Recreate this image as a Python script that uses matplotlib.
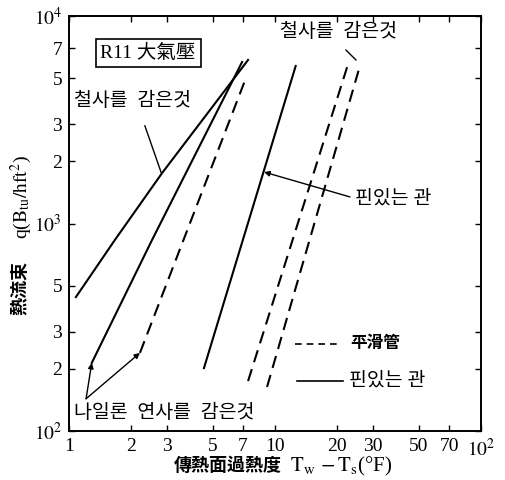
import numpy as np
import matplotlib
matplotlib.use("Agg")
import matplotlib.pyplot as plt
from matplotlib.ticker import FixedLocator, NullLocator, NullFormatter

plt.rcParams['font.family'] = ['Liberation Serif', 'Noto Sans CJK KR', 'DejaVu Sans']
plt.rcParams['mathtext.fontset'] = 'stix'

# curves: (delta T [F], q [Btu/hft2])
wire_solid_x = [1.08, 1.67, 2.83, 7.4]
wire_solid_y = [442, 833, 1750, 6140]
nylon_solid_x = [1.29, 2.53, 6.92]
nylon_solid_y = [213, 833, 6000]
nylon_dash_x = [2.21, 7.1]
nylon_dash_y = [238, 4800]
fin_solid_x = [4.52, 12.6]
fin_solid_y = [201, 5740]
smooth_dash_x = [7.4, 22.4]
smooth_dash_y = [174, 5680]
wire_dash_x = [9.15, 25.9]
wire_dash_y = [163, 5800]

xticks = [1, 2, 3, 5, 7, 10, 20, 30, 50, 70, 100]
xticklabels = ['1', '2', '3', '5', '7', '10', '20', '30', '50', '70', r'$10^2$']
yticks = [100, 200, 300, 500, 1000, 2000, 3000, 5000, 7000, 10000]
yticklabels = [r'$10^2$', '2', '3', '5', r'$10^3$', '2', '3', '5', '7', r'$10^4$']

fig = plt.figure(figsize=(5.05, 4.8), dpi=100)
ax = fig.add_axes([69/505, 1-431/480, 412/505, 415/480])
ax.set_xscale('log')
ax.set_yscale('log')
ax.set_xlim(1, 100)
ax.set_ylim(100, 10000)

lw = 1.5
dash = (0, (6, 3.5))
ax.plot(wire_solid_x, wire_solid_y, color='black', lw=lw)
ax.plot(nylon_solid_x, nylon_solid_y, color='black', lw=lw)
ax.plot(nylon_dash_x, nylon_dash_y, color='black', lw=lw, linestyle=dash)
ax.plot(fin_solid_x, fin_solid_y, color='black', lw=lw)
ax.plot(smooth_dash_x, smooth_dash_y, color='black', lw=lw, linestyle=dash)
ax.plot(wire_dash_x, wire_dash_y, color='black', lw=lw, linestyle=dash)

ax.xaxis.set_major_locator(FixedLocator(xticks))
ax.xaxis.set_minor_locator(NullLocator())
ax.set_xticklabels(xticklabels)
ax.yaxis.set_major_locator(FixedLocator(yticks))
ax.yaxis.set_minor_locator(NullLocator())
ax.set_yticklabels(yticklabels)
ax.tick_params(direction='in', length=4, width=1, top=True, right=True,
               labelsize=14, pad=5)
for s in ax.spines.values():
    s.set_linewidth(1.4)

kfont = 14
# box label
ax.text(2.42, 6630, 'R11 大氣壓', fontsize=14, ha='center', va='center',
        bbox=dict(boxstyle='square,pad=0.25', fc='white', ec='black', lw=1.2))

# wire wound (upper left)
ax.text(1.06, 3900, '철사를  감은것', fontsize=kfont, ha='left', va='center')
ax.annotate('', xy=(2.83, 1710), xytext=(2.31, 3050),
            arrowprops=dict(arrowstyle='-', color='black', lw=1))

# wire wound (top right)
ax.text(10.6, 8350, '철사를  감은것', fontsize=kfont, ha='left', va='center')
ax.annotate('', xy=(25.3, 6000), xytext=(21.6, 7010),
            arrowprops=dict(arrowstyle='-', color='black', lw=1))

# finned tube arrow
ax.text(24.5, 1320, '핀있는 관', fontsize=kfont, ha='left', va='center')
ax.annotate('', xy=(8.85, 1770), xytext=(23.1, 1343),
            arrowprops=dict(arrowstyle='-|>', color='black', lw=1,
                            mutation_scale=8, shrinkA=0, shrinkB=0))

# nylon wound with two leaders
ax.text(1.06, 122, '나일론  연사를  감은것', fontsize=kfont, ha='left', va='center')
for tx, ty in [(nylon_solid_x[0], nylon_solid_y[0]), (nylon_dash_x[0], nylon_dash_y[0])]:
    ax.annotate('', xy=(tx, ty), xytext=(1.21, 143),
                arrowprops=dict(arrowstyle='-|>', color='black', lw=1,
                                mutation_scale=8, shrinkA=0, shrinkB=0))

# legend drawn by hand
ax.plot([12.5, 21.0], [262, 262], color='black', lw=1.2, linestyle=(0, (4, 3)))
ax.text(23.1, 262, '平滑管', fontsize=12, ha='left', va='center', fontweight='bold')
ax.plot([12.8, 21.4], [175, 175], color='black', lw=1.2)
ax.text(22.9, 175, '핀있는 관', fontsize=kfont, ha='left', va='center')

# axis labels made of pieces (CJK + math)
fig.text(282/505, 1-466/480, '傳熱面過熱度', fontsize=13, fontweight='bold',
         ha='right', va='center')
fig.text(290/505, 1-466/480, r'$\mathrm{T_w\,-T_s}$(°F)', fontsize=15,
         ha='left', va='center')
fig.text(21/505, 1-288/480, '熱流束', fontsize=13, fontweight='bold',
         ha='center', va='center', rotation=90)
fig.text(21/505, 1-197/480, r'q($\mathrm{B_{tu}/hft^2}$)', fontsize=14,
         ha='center', va='center', rotation=90)

fig.savefig('out.png', dpi=100)
